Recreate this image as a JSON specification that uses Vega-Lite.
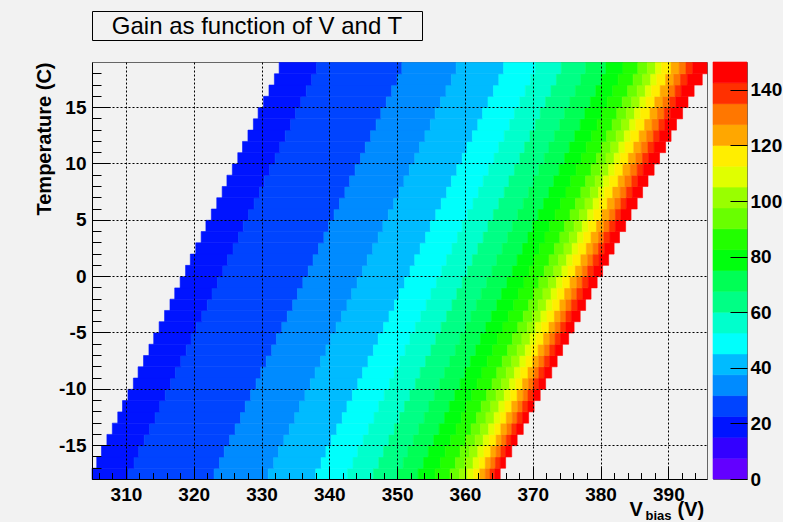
{
"$schema": "https://vega.github.io/schema/vega-lite/v6.json",
"background": "#f2f2f2",
"padding": {"left": 22, "top": 10, "right": 0, "bottom": 0},
"config": {"font": "Liberation Sans", "view": {"stroke": null},
 "axis": {"labelFont": "Liberation Sans", "titleFont": "Liberation Sans", "labelColor": "#000", "titleColor": "#000", "tickColor": "#000", "domainColor": "#000"}},
"spacing": 20,
"vconcat": [
{
 "width": 330, "height": 29,
 "view": {"stroke": "#000", "strokeWidth": 1},
 "data": {"values": [{"title": "Gain as function of V and T"}]},
 "mark": {"type": "text", "fontSize": 24, "font": "Liberation Sans", "fontWeight": "normal", "color": "#000", "align": "center", "baseline": "middle", "dy": 1},
 "encoding": {"text": {"field": "title", "type": "nominal"}}
},
{
 "spacing": 4,
 "hconcat": [
 {
  "width": 615, "height": 417,
  "view": {"stroke": "#666", "strokeWidth": 1},
  "layer": [
  {
   "data": {"values": [
{"t":-18,"v":305,"w":310.4,"g":19},{"t":-18,"v":310.4,"w":323.0,"g":26},{"t":-18,"v":323.0,"w":331.0,"g":34},{"t":-18,"v":331.0,"w":338.0,"g":41},{"t":-18,"v":338.0,"w":342.7,"g":49},{"t":-18,"v":342.7,"w":346.5,"g":56},{"t":-18,"v":346.5,"w":350.1,"g":64},{"t":-18,"v":350.1,"w":353.1,"g":71},{"t":-18,"v":353.1,"w":355.6,"g":79},{"t":-18,"v":355.6,"w":357.8,"g":86},{"t":-18,"v":357.8,"w":359.2,"g":94},{"t":-18,"v":359.2,"w":360.4,"g":101},{"t":-18,"v":360.4,"w":361.3,"g":109},{"t":-18,"v":361.3,"w":362.2,"g":116},{"t":-18,"v":362.2,"w":363.0,"g":124},{"t":-18,"v":363.0,"w":363.7,"g":131},{"t":-18,"v":363.7,"w":364.4,"g":139},{"t":-18,"v":364.4,"w":365.2,"g":146},
{"t":-17,"v":305.7,"w":311.2,"g":19},{"t":-17,"v":311.2,"w":323.8,"g":26},{"t":-17,"v":323.8,"w":331.8,"g":34},{"t":-17,"v":331.8,"w":338.8,"g":41},{"t":-17,"v":338.8,"w":343.5,"g":49},{"t":-17,"v":343.5,"w":347.3,"g":56},{"t":-17,"v":347.3,"w":350.9,"g":64},{"t":-17,"v":350.9,"w":353.9,"g":71},{"t":-17,"v":353.9,"w":356.4,"g":79},{"t":-17,"v":356.4,"w":358.6,"g":86},{"t":-17,"v":358.6,"w":360.0,"g":94},{"t":-17,"v":360.0,"w":361.2,"g":101},{"t":-17,"v":361.2,"w":362.1,"g":109},{"t":-17,"v":362.1,"w":363.0,"g":116},{"t":-17,"v":363.0,"w":363.8,"g":124},{"t":-17,"v":363.8,"w":364.5,"g":131},{"t":-17,"v":364.5,"w":365.2,"g":139},{"t":-17,"v":365.2,"w":366.0,"g":146},
{"t":-16,"v":306.4,"w":311.9,"g":19},{"t":-16,"v":311.9,"w":324.5,"g":26},{"t":-16,"v":324.5,"w":332.5,"g":34},{"t":-16,"v":332.5,"w":339.5,"g":41},{"t":-16,"v":339.5,"w":344.2,"g":49},{"t":-16,"v":344.2,"w":348.0,"g":56},{"t":-16,"v":348.0,"w":351.6,"g":64},{"t":-16,"v":351.6,"w":354.6,"g":71},{"t":-16,"v":354.6,"w":357.1,"g":79},{"t":-16,"v":357.1,"w":359.3,"g":86},{"t":-16,"v":359.3,"w":360.7,"g":94},{"t":-16,"v":360.7,"w":361.9,"g":101},{"t":-16,"v":361.9,"w":362.8,"g":109},{"t":-16,"v":362.8,"w":363.8,"g":116},{"t":-16,"v":363.8,"w":364.6,"g":124},{"t":-16,"v":364.6,"w":365.3,"g":131},{"t":-16,"v":365.3,"w":366.0,"g":139},{"t":-16,"v":366.0,"w":366.9,"g":146},
{"t":-15,"v":307.2,"w":312.7,"g":19},{"t":-15,"v":312.7,"w":325.3,"g":26},{"t":-15,"v":325.3,"w":333.3,"g":34},{"t":-15,"v":333.3,"w":340.3,"g":41},{"t":-15,"v":340.3,"w":345.0,"g":49},{"t":-15,"v":345.0,"w":348.8,"g":56},{"t":-15,"v":348.8,"w":352.4,"g":64},{"t":-15,"v":352.4,"w":355.4,"g":71},{"t":-15,"v":355.4,"w":357.9,"g":79},{"t":-15,"v":357.9,"w":360.1,"g":86},{"t":-15,"v":360.1,"w":361.5,"g":94},{"t":-15,"v":361.5,"w":362.7,"g":101},{"t":-15,"v":362.7,"w":363.6,"g":109},{"t":-15,"v":363.6,"w":364.6,"g":116},{"t":-15,"v":364.6,"w":365.4,"g":124},{"t":-15,"v":365.4,"w":366.1,"g":131},{"t":-15,"v":366.1,"w":366.8,"g":139},{"t":-15,"v":366.8,"w":367.7,"g":146},
{"t":-14,"v":308.0,"w":313.5,"g":19},{"t":-14,"v":313.5,"w":326.1,"g":26},{"t":-14,"v":326.1,"w":334.1,"g":34},{"t":-14,"v":334.1,"w":341.1,"g":41},{"t":-14,"v":341.1,"w":345.8,"g":49},{"t":-14,"v":345.8,"w":349.6,"g":56},{"t":-14,"v":349.6,"w":353.2,"g":64},{"t":-14,"v":353.2,"w":356.2,"g":71},{"t":-14,"v":356.2,"w":358.7,"g":79},{"t":-14,"v":358.7,"w":360.9,"g":86},{"t":-14,"v":360.9,"w":362.3,"g":94},{"t":-14,"v":362.3,"w":363.5,"g":101},{"t":-14,"v":363.5,"w":364.4,"g":109},{"t":-14,"v":364.4,"w":365.3,"g":116},{"t":-14,"v":365.3,"w":366.2,"g":124},{"t":-14,"v":366.2,"w":366.9,"g":131},{"t":-14,"v":366.9,"w":367.6,"g":139},{"t":-14,"v":367.6,"w":368.6,"g":146},
{"t":-13,"v":308.8,"w":314.3,"g":19},{"t":-13,"v":314.3,"w":326.9,"g":26},{"t":-13,"v":326.9,"w":334.9,"g":34},{"t":-13,"v":334.9,"w":341.9,"g":41},{"t":-13,"v":341.9,"w":346.6,"g":49},{"t":-13,"v":346.6,"w":350.4,"g":56},{"t":-13,"v":350.4,"w":354.0,"g":64},{"t":-13,"v":354.0,"w":357.0,"g":71},{"t":-13,"v":357.0,"w":359.5,"g":79},{"t":-13,"v":359.5,"w":361.7,"g":86},{"t":-13,"v":361.7,"w":363.1,"g":94},{"t":-13,"v":363.1,"w":364.3,"g":101},{"t":-13,"v":364.3,"w":365.2,"g":109},{"t":-13,"v":365.2,"w":366.1,"g":116},{"t":-13,"v":366.1,"w":367.0,"g":124},{"t":-13,"v":367.0,"w":367.7,"g":131},{"t":-13,"v":367.7,"w":368.5,"g":139},{"t":-13,"v":368.5,"w":369.4,"g":146},
{"t":-12,"v":309.5,"w":315.0,"g":19},{"t":-12,"v":315.0,"w":327.6,"g":26},{"t":-12,"v":327.6,"w":335.6,"g":34},{"t":-12,"v":335.6,"w":342.6,"g":41},{"t":-12,"v":342.6,"w":347.3,"g":49},{"t":-12,"v":347.3,"w":351.1,"g":56},{"t":-12,"v":351.1,"w":354.7,"g":64},{"t":-12,"v":354.7,"w":357.7,"g":71},{"t":-12,"v":357.7,"w":360.2,"g":79},{"t":-12,"v":360.2,"w":362.4,"g":86},{"t":-12,"v":362.4,"w":363.8,"g":94},{"t":-12,"v":363.8,"w":365.0,"g":101},{"t":-12,"v":365.0,"w":365.9,"g":109},{"t":-12,"v":365.9,"w":366.9,"g":116},{"t":-12,"v":366.9,"w":367.8,"g":124},{"t":-12,"v":367.8,"w":368.5,"g":131},{"t":-12,"v":368.5,"w":369.3,"g":139},{"t":-12,"v":369.3,"w":370.2,"g":146},
{"t":-11,"v":310.3,"w":315.8,"g":19},{"t":-11,"v":315.8,"w":328.4,"g":26},{"t":-11,"v":328.4,"w":336.4,"g":34},{"t":-11,"v":336.4,"w":343.4,"g":41},{"t":-11,"v":343.4,"w":348.1,"g":49},{"t":-11,"v":348.1,"w":351.9,"g":56},{"t":-11,"v":351.9,"w":355.5,"g":64},{"t":-11,"v":355.5,"w":358.5,"g":71},{"t":-11,"v":358.5,"w":361.0,"g":79},{"t":-11,"v":361.0,"w":363.2,"g":86},{"t":-11,"v":363.2,"w":364.6,"g":94},{"t":-11,"v":364.6,"w":365.8,"g":101},{"t":-11,"v":365.8,"w":366.7,"g":109},{"t":-11,"v":366.7,"w":367.7,"g":116},{"t":-11,"v":367.7,"w":368.6,"g":124},{"t":-11,"v":368.6,"w":369.3,"g":131},{"t":-11,"v":369.3,"w":370.1,"g":139},{"t":-11,"v":370.1,"w":371.1,"g":146},
{"t":-10,"v":311.1,"w":316.6,"g":19},{"t":-10,"v":316.6,"w":329.2,"g":26},{"t":-10,"v":329.2,"w":337.2,"g":34},{"t":-10,"v":337.2,"w":344.2,"g":41},{"t":-10,"v":344.2,"w":348.9,"g":49},{"t":-10,"v":348.9,"w":352.7,"g":56},{"t":-10,"v":352.7,"w":356.3,"g":64},{"t":-10,"v":356.3,"w":359.3,"g":71},{"t":-10,"v":359.3,"w":361.8,"g":79},{"t":-10,"v":361.8,"w":364.0,"g":86},{"t":-10,"v":364.0,"w":365.4,"g":94},{"t":-10,"v":365.4,"w":366.6,"g":101},{"t":-10,"v":366.6,"w":367.5,"g":109},{"t":-10,"v":367.5,"w":368.5,"g":116},{"t":-10,"v":368.5,"w":369.4,"g":124},{"t":-10,"v":369.4,"w":370.1,"g":131},{"t":-10,"v":370.1,"w":370.9,"g":139},{"t":-10,"v":370.9,"w":371.9,"g":146},
{"t":-9,"v":311.8,"w":317.3,"g":19},{"t":-9,"v":317.3,"w":329.9,"g":26},{"t":-9,"v":329.9,"w":337.9,"g":34},{"t":-9,"v":337.9,"w":344.9,"g":41},{"t":-9,"v":344.9,"w":349.6,"g":49},{"t":-9,"v":349.6,"w":353.4,"g":56},{"t":-9,"v":353.4,"w":357.0,"g":64},{"t":-9,"v":357.0,"w":360.0,"g":71},{"t":-9,"v":360.0,"w":362.5,"g":79},{"t":-9,"v":362.5,"w":364.7,"g":86},{"t":-9,"v":364.7,"w":366.1,"g":94},{"t":-9,"v":366.1,"w":367.3,"g":101},{"t":-9,"v":367.3,"w":368.2,"g":109},{"t":-9,"v":368.2,"w":369.3,"g":116},{"t":-9,"v":369.3,"w":370.2,"g":124},{"t":-9,"v":370.2,"w":370.9,"g":131},{"t":-9,"v":370.9,"w":371.7,"g":139},{"t":-9,"v":371.7,"w":372.8,"g":146},
{"t":-8,"v":312.6,"w":318.1,"g":19},{"t":-8,"v":318.1,"w":330.7,"g":26},{"t":-8,"v":330.7,"w":338.7,"g":34},{"t":-8,"v":338.7,"w":345.7,"g":41},{"t":-8,"v":345.7,"w":350.4,"g":49},{"t":-8,"v":350.4,"w":354.2,"g":56},{"t":-8,"v":354.2,"w":357.8,"g":64},{"t":-8,"v":357.8,"w":360.8,"g":71},{"t":-8,"v":360.8,"w":363.3,"g":79},{"t":-8,"v":363.3,"w":365.5,"g":86},{"t":-8,"v":365.5,"w":366.9,"g":94},{"t":-8,"v":366.9,"w":368.1,"g":101},{"t":-8,"v":368.1,"w":369.0,"g":109},{"t":-8,"v":369.0,"w":370.0,"g":116},{"t":-8,"v":370.0,"w":370.9,"g":124},{"t":-8,"v":370.9,"w":371.7,"g":131},{"t":-8,"v":371.7,"w":372.5,"g":139},{"t":-8,"v":372.5,"w":373.6,"g":146},
{"t":-7,"v":313.4,"w":318.9,"g":19},{"t":-7,"v":318.9,"w":331.5,"g":26},{"t":-7,"v":331.5,"w":339.5,"g":34},{"t":-7,"v":339.5,"w":346.5,"g":41},{"t":-7,"v":346.5,"w":351.2,"g":49},{"t":-7,"v":351.2,"w":355.0,"g":56},{"t":-7,"v":355.0,"w":358.6,"g":64},{"t":-7,"v":358.6,"w":361.6,"g":71},{"t":-7,"v":361.6,"w":364.1,"g":79},{"t":-7,"v":364.1,"w":366.3,"g":86},{"t":-7,"v":366.3,"w":367.7,"g":94},{"t":-7,"v":367.7,"w":368.9,"g":101},{"t":-7,"v":368.9,"w":369.8,"g":109},{"t":-7,"v":369.8,"w":370.8,"g":116},{"t":-7,"v":370.8,"w":371.7,"g":124},{"t":-7,"v":371.7,"w":372.5,"g":131},{"t":-7,"v":372.5,"w":373.3,"g":139},{"t":-7,"v":373.3,"w":374.4,"g":146},
{"t":-6,"v":314.1,"w":319.6,"g":19},{"t":-6,"v":319.6,"w":332.2,"g":26},{"t":-6,"v":332.2,"w":340.2,"g":34},{"t":-6,"v":340.2,"w":347.2,"g":41},{"t":-6,"v":347.2,"w":351.9,"g":49},{"t":-6,"v":351.9,"w":355.7,"g":56},{"t":-6,"v":355.7,"w":359.3,"g":64},{"t":-6,"v":359.3,"w":362.3,"g":71},{"t":-6,"v":362.3,"w":364.8,"g":79},{"t":-6,"v":364.8,"w":367.0,"g":86},{"t":-6,"v":367.0,"w":368.4,"g":94},{"t":-6,"v":368.4,"w":369.6,"g":101},{"t":-6,"v":369.6,"w":370.5,"g":109},{"t":-6,"v":370.5,"w":371.6,"g":116},{"t":-6,"v":371.6,"w":372.5,"g":124},{"t":-6,"v":372.5,"w":373.3,"g":131},{"t":-6,"v":373.3,"w":374.1,"g":139},{"t":-6,"v":374.1,"w":375.3,"g":146},
{"t":-5,"v":314.9,"w":320.4,"g":19},{"t":-5,"v":320.4,"w":333.0,"g":26},{"t":-5,"v":333.0,"w":341.0,"g":34},{"t":-5,"v":341.0,"w":348.0,"g":41},{"t":-5,"v":348.0,"w":352.7,"g":49},{"t":-5,"v":352.7,"w":356.5,"g":56},{"t":-5,"v":356.5,"w":360.1,"g":64},{"t":-5,"v":360.1,"w":363.1,"g":71},{"t":-5,"v":363.1,"w":365.6,"g":79},{"t":-5,"v":365.6,"w":367.8,"g":86},{"t":-5,"v":367.8,"w":369.2,"g":94},{"t":-5,"v":369.2,"w":370.4,"g":101},{"t":-5,"v":370.4,"w":371.3,"g":109},{"t":-5,"v":371.3,"w":372.4,"g":116},{"t":-5,"v":372.4,"w":373.3,"g":124},{"t":-5,"v":373.3,"w":374.1,"g":131},{"t":-5,"v":374.1,"w":374.9,"g":139},{"t":-5,"v":374.9,"w":376.1,"g":146},
{"t":-4,"v":315.7,"w":321.2,"g":19},{"t":-4,"v":321.2,"w":333.8,"g":26},{"t":-4,"v":333.8,"w":341.8,"g":34},{"t":-4,"v":341.8,"w":348.8,"g":41},{"t":-4,"v":348.8,"w":353.5,"g":49},{"t":-4,"v":353.5,"w":357.3,"g":56},{"t":-4,"v":357.3,"w":360.9,"g":64},{"t":-4,"v":360.9,"w":363.9,"g":71},{"t":-4,"v":363.9,"w":366.4,"g":79},{"t":-4,"v":366.4,"w":368.6,"g":86},{"t":-4,"v":368.6,"w":370.0,"g":94},{"t":-4,"v":370.0,"w":371.2,"g":101},{"t":-4,"v":371.2,"w":372.1,"g":109},{"t":-4,"v":372.1,"w":373.2,"g":116},{"t":-4,"v":373.2,"w":374.1,"g":124},{"t":-4,"v":374.1,"w":374.9,"g":131},{"t":-4,"v":374.9,"w":375.7,"g":139},{"t":-4,"v":375.7,"w":377.0,"g":146},
{"t":-3,"v":316.5,"w":322.0,"g":19},{"t":-3,"v":322.0,"w":334.6,"g":26},{"t":-3,"v":334.6,"w":342.6,"g":34},{"t":-3,"v":342.6,"w":349.6,"g":41},{"t":-3,"v":349.6,"w":354.3,"g":49},{"t":-3,"v":354.3,"w":358.1,"g":56},{"t":-3,"v":358.1,"w":361.7,"g":64},{"t":-3,"v":361.7,"w":364.7,"g":71},{"t":-3,"v":364.7,"w":367.2,"g":79},{"t":-3,"v":367.2,"w":369.4,"g":86},{"t":-3,"v":369.4,"w":370.8,"g":94},{"t":-3,"v":370.8,"w":372.0,"g":101},{"t":-3,"v":372.0,"w":372.9,"g":109},{"t":-3,"v":372.9,"w":374.0,"g":116},{"t":-3,"v":374.0,"w":374.9,"g":124},{"t":-3,"v":374.9,"w":375.7,"g":131},{"t":-3,"v":375.7,"w":376.6,"g":139},{"t":-3,"v":376.6,"w":377.8,"g":146},
{"t":-2,"v":317.2,"w":322.7,"g":19},{"t":-2,"v":322.7,"w":335.3,"g":26},{"t":-2,"v":335.3,"w":343.3,"g":34},{"t":-2,"v":343.3,"w":350.3,"g":41},{"t":-2,"v":350.3,"w":355.0,"g":49},{"t":-2,"v":355.0,"w":358.8,"g":56},{"t":-2,"v":358.8,"w":362.4,"g":64},{"t":-2,"v":362.4,"w":365.4,"g":71},{"t":-2,"v":365.4,"w":367.9,"g":79},{"t":-2,"v":367.9,"w":370.1,"g":86},{"t":-2,"v":370.1,"w":371.5,"g":94},{"t":-2,"v":371.5,"w":372.7,"g":101},{"t":-2,"v":372.7,"w":373.6,"g":109},{"t":-2,"v":373.6,"w":374.7,"g":116},{"t":-2,"v":374.7,"w":375.7,"g":124},{"t":-2,"v":375.7,"w":376.5,"g":131},{"t":-2,"v":376.5,"w":377.4,"g":139},{"t":-2,"v":377.4,"w":378.6,"g":146},
{"t":-1,"v":318.0,"w":323.5,"g":19},{"t":-1,"v":323.5,"w":336.1,"g":26},{"t":-1,"v":336.1,"w":344.1,"g":34},{"t":-1,"v":344.1,"w":351.1,"g":41},{"t":-1,"v":351.1,"w":355.8,"g":49},{"t":-1,"v":355.8,"w":359.6,"g":56},{"t":-1,"v":359.6,"w":363.2,"g":64},{"t":-1,"v":363.2,"w":366.2,"g":71},{"t":-1,"v":366.2,"w":368.7,"g":79},{"t":-1,"v":368.7,"w":370.9,"g":86},{"t":-1,"v":370.9,"w":372.3,"g":94},{"t":-1,"v":372.3,"w":373.5,"g":101},{"t":-1,"v":373.5,"w":374.4,"g":109},{"t":-1,"v":374.4,"w":375.5,"g":116},{"t":-1,"v":375.5,"w":376.5,"g":124},{"t":-1,"v":376.5,"w":377.3,"g":131},{"t":-1,"v":377.3,"w":378.2,"g":139},{"t":-1,"v":378.2,"w":379.5,"g":146},
{"t":0,"v":318.8,"w":324.3,"g":19},{"t":0,"v":324.3,"w":336.9,"g":26},{"t":0,"v":336.9,"w":344.9,"g":34},{"t":0,"v":344.9,"w":351.9,"g":41},{"t":0,"v":351.9,"w":356.6,"g":49},{"t":0,"v":356.6,"w":360.4,"g":56},{"t":0,"v":360.4,"w":364.0,"g":64},{"t":0,"v":364.0,"w":367.0,"g":71},{"t":0,"v":367.0,"w":369.5,"g":79},{"t":0,"v":369.5,"w":371.7,"g":86},{"t":0,"v":371.7,"w":373.1,"g":94},{"t":0,"v":373.1,"w":374.3,"g":101},{"t":0,"v":374.3,"w":375.2,"g":109},{"t":0,"v":375.2,"w":376.3,"g":116},{"t":0,"v":376.3,"w":377.3,"g":124},{"t":0,"v":377.3,"w":378.1,"g":131},{"t":0,"v":378.1,"w":379.0,"g":139},{"t":0,"v":379.0,"w":380.3,"g":146},
{"t":1,"v":319.5,"w":325.0,"g":19},{"t":1,"v":325.0,"w":337.6,"g":26},{"t":1,"v":337.6,"w":345.6,"g":34},{"t":1,"v":345.6,"w":352.6,"g":41},{"t":1,"v":352.6,"w":357.3,"g":49},{"t":1,"v":357.3,"w":361.1,"g":56},{"t":1,"v":361.1,"w":364.7,"g":64},{"t":1,"v":364.7,"w":367.7,"g":71},{"t":1,"v":367.7,"w":370.2,"g":79},{"t":1,"v":370.2,"w":372.4,"g":86},{"t":1,"v":372.4,"w":373.8,"g":94},{"t":1,"v":373.8,"w":375.0,"g":101},{"t":1,"v":375.0,"w":375.9,"g":109},{"t":1,"v":375.9,"w":377.1,"g":116},{"t":1,"v":377.1,"w":378.1,"g":124},{"t":1,"v":378.1,"w":378.9,"g":131},{"t":1,"v":378.9,"w":379.8,"g":139},{"t":1,"v":379.8,"w":381.2,"g":146},
{"t":2,"v":320.3,"w":325.8,"g":19},{"t":2,"v":325.8,"w":338.4,"g":26},{"t":2,"v":338.4,"w":346.4,"g":34},{"t":2,"v":346.4,"w":353.4,"g":41},{"t":2,"v":353.4,"w":358.1,"g":49},{"t":2,"v":358.1,"w":361.9,"g":56},{"t":2,"v":361.9,"w":365.5,"g":64},{"t":2,"v":365.5,"w":368.5,"g":71},{"t":2,"v":368.5,"w":371.0,"g":79},{"t":2,"v":371.0,"w":373.2,"g":86},{"t":2,"v":373.2,"w":374.6,"g":94},{"t":2,"v":374.6,"w":375.8,"g":101},{"t":2,"v":375.8,"w":376.7,"g":109},{"t":2,"v":376.7,"w":377.9,"g":116},{"t":2,"v":377.9,"w":378.9,"g":124},{"t":2,"v":378.9,"w":379.7,"g":131},{"t":2,"v":379.7,"w":380.6,"g":139},{"t":2,"v":380.6,"w":382.0,"g":146},
{"t":3,"v":321.1,"w":326.6,"g":19},{"t":3,"v":326.6,"w":339.2,"g":26},{"t":3,"v":339.2,"w":347.2,"g":34},{"t":3,"v":347.2,"w":354.2,"g":41},{"t":3,"v":354.2,"w":358.9,"g":49},{"t":3,"v":358.9,"w":362.7,"g":56},{"t":3,"v":362.7,"w":366.3,"g":64},{"t":3,"v":366.3,"w":369.3,"g":71},{"t":3,"v":369.3,"w":371.8,"g":79},{"t":3,"v":371.8,"w":374.0,"g":86},{"t":3,"v":374.0,"w":375.4,"g":94},{"t":3,"v":375.4,"w":376.6,"g":101},{"t":3,"v":376.6,"w":377.5,"g":109},{"t":3,"v":377.5,"w":378.6,"g":116},{"t":3,"v":378.6,"w":379.7,"g":124},{"t":3,"v":379.7,"w":380.5,"g":131},{"t":3,"v":380.5,"w":381.4,"g":139},{"t":3,"v":381.4,"w":382.8,"g":146},
{"t":4,"v":321.8,"w":327.3,"g":19},{"t":4,"v":327.3,"w":339.9,"g":26},{"t":4,"v":339.9,"w":347.9,"g":34},{"t":4,"v":347.9,"w":354.9,"g":41},{"t":4,"v":354.9,"w":359.6,"g":49},{"t":4,"v":359.6,"w":363.4,"g":56},{"t":4,"v":363.4,"w":367.0,"g":64},{"t":4,"v":367.0,"w":370.0,"g":71},{"t":4,"v":370.0,"w":372.5,"g":79},{"t":4,"v":372.5,"w":374.7,"g":86},{"t":4,"v":374.7,"w":376.1,"g":94},{"t":4,"v":376.1,"w":377.3,"g":101},{"t":4,"v":377.3,"w":378.2,"g":109},{"t":4,"v":378.2,"w":379.4,"g":116},{"t":4,"v":379.4,"w":380.5,"g":124},{"t":4,"v":380.5,"w":381.3,"g":131},{"t":4,"v":381.3,"w":382.2,"g":139},{"t":4,"v":382.2,"w":383.7,"g":146},
{"t":5,"v":322.6,"w":328.1,"g":19},{"t":5,"v":328.1,"w":340.7,"g":26},{"t":5,"v":340.7,"w":348.7,"g":34},{"t":5,"v":348.7,"w":355.7,"g":41},{"t":5,"v":355.7,"w":360.4,"g":49},{"t":5,"v":360.4,"w":364.2,"g":56},{"t":5,"v":364.2,"w":367.8,"g":64},{"t":5,"v":367.8,"w":370.8,"g":71},{"t":5,"v":370.8,"w":373.3,"g":79},{"t":5,"v":373.3,"w":375.5,"g":86},{"t":5,"v":375.5,"w":376.9,"g":94},{"t":5,"v":376.9,"w":378.1,"g":101},{"t":5,"v":378.1,"w":379.0,"g":109},{"t":5,"v":379.0,"w":380.2,"g":116},{"t":5,"v":380.2,"w":381.3,"g":124},{"t":5,"v":381.3,"w":382.2,"g":131},{"t":5,"v":382.2,"w":383.0,"g":139},{"t":5,"v":383.0,"w":384.5,"g":146},
{"t":6,"v":323.4,"w":328.9,"g":19},{"t":6,"v":328.9,"w":341.5,"g":26},{"t":6,"v":341.5,"w":349.5,"g":34},{"t":6,"v":349.5,"w":356.5,"g":41},{"t":6,"v":356.5,"w":361.2,"g":49},{"t":6,"v":361.2,"w":365.0,"g":56},{"t":6,"v":365.0,"w":368.6,"g":64},{"t":6,"v":368.6,"w":371.6,"g":71},{"t":6,"v":371.6,"w":374.1,"g":79},{"t":6,"v":374.1,"w":376.3,"g":86},{"t":6,"v":376.3,"w":377.7,"g":94},{"t":6,"v":377.7,"w":378.9,"g":101},{"t":6,"v":378.9,"w":379.8,"g":109},{"t":6,"v":379.8,"w":381.0,"g":116},{"t":6,"v":381.0,"w":382.1,"g":124},{"t":6,"v":382.1,"w":383.0,"g":131},{"t":6,"v":383.0,"w":383.8,"g":139},{"t":6,"v":383.8,"w":385.4,"g":146},
{"t":7,"v":324.2,"w":329.7,"g":19},{"t":7,"v":329.7,"w":342.3,"g":26},{"t":7,"v":342.3,"w":350.3,"g":34},{"t":7,"v":350.3,"w":357.3,"g":41},{"t":7,"v":357.3,"w":362.0,"g":49},{"t":7,"v":362.0,"w":365.8,"g":56},{"t":7,"v":365.8,"w":369.4,"g":64},{"t":7,"v":369.4,"w":372.4,"g":71},{"t":7,"v":372.4,"w":374.9,"g":79},{"t":7,"v":374.9,"w":377.1,"g":86},{"t":7,"v":377.1,"w":378.5,"g":94},{"t":7,"v":378.5,"w":379.7,"g":101},{"t":7,"v":379.7,"w":380.6,"g":109},{"t":7,"v":380.6,"w":381.8,"g":116},{"t":7,"v":381.8,"w":382.9,"g":124},{"t":7,"v":382.9,"w":383.8,"g":131},{"t":7,"v":383.8,"w":384.7,"g":139},{"t":7,"v":384.7,"w":386.2,"g":146},
{"t":8,"v":324.9,"w":330.4,"g":19},{"t":8,"v":330.4,"w":343.0,"g":26},{"t":8,"v":343.0,"w":351.0,"g":34},{"t":8,"v":351.0,"w":358.0,"g":41},{"t":8,"v":358.0,"w":362.7,"g":49},{"t":8,"v":362.7,"w":366.5,"g":56},{"t":8,"v":366.5,"w":370.1,"g":64},{"t":8,"v":370.1,"w":373.1,"g":71},{"t":8,"v":373.1,"w":375.6,"g":79},{"t":8,"v":375.6,"w":377.8,"g":86},{"t":8,"v":377.8,"w":379.2,"g":94},{"t":8,"v":379.2,"w":380.4,"g":101},{"t":8,"v":380.4,"w":381.3,"g":109},{"t":8,"v":381.3,"w":382.6,"g":116},{"t":8,"v":382.6,"w":383.6,"g":124},{"t":8,"v":383.6,"w":384.6,"g":131},{"t":8,"v":384.6,"w":385.5,"g":139},{"t":8,"v":385.5,"w":387.0,"g":146},
{"t":9,"v":325.7,"w":331.2,"g":19},{"t":9,"v":331.2,"w":343.8,"g":26},{"t":9,"v":343.8,"w":351.8,"g":34},{"t":9,"v":351.8,"w":358.8,"g":41},{"t":9,"v":358.8,"w":363.5,"g":49},{"t":9,"v":363.5,"w":367.3,"g":56},{"t":9,"v":367.3,"w":370.9,"g":64},{"t":9,"v":370.9,"w":373.9,"g":71},{"t":9,"v":373.9,"w":376.4,"g":79},{"t":9,"v":376.4,"w":378.6,"g":86},{"t":9,"v":378.6,"w":380.0,"g":94},{"t":9,"v":380.0,"w":381.2,"g":101},{"t":9,"v":381.2,"w":382.1,"g":109},{"t":9,"v":382.1,"w":383.3,"g":116},{"t":9,"v":383.3,"w":384.4,"g":124},{"t":9,"v":384.4,"w":385.4,"g":131},{"t":9,"v":385.4,"w":386.3,"g":139},{"t":9,"v":386.3,"w":387.9,"g":146},
{"t":10,"v":326.5,"w":332.0,"g":19},{"t":10,"v":332.0,"w":344.6,"g":26},{"t":10,"v":344.6,"w":352.6,"g":34},{"t":10,"v":352.6,"w":359.6,"g":41},{"t":10,"v":359.6,"w":364.3,"g":49},{"t":10,"v":364.3,"w":368.1,"g":56},{"t":10,"v":368.1,"w":371.7,"g":64},{"t":10,"v":371.7,"w":374.7,"g":71},{"t":10,"v":374.7,"w":377.2,"g":79},{"t":10,"v":377.2,"w":379.4,"g":86},{"t":10,"v":379.4,"w":380.8,"g":94},{"t":10,"v":380.8,"w":382.0,"g":101},{"t":10,"v":382.0,"w":382.9,"g":109},{"t":10,"v":382.9,"w":384.1,"g":116},{"t":10,"v":384.1,"w":385.2,"g":124},{"t":10,"v":385.2,"w":386.2,"g":131},{"t":10,"v":386.2,"w":387.1,"g":139},{"t":10,"v":387.1,"w":388.7,"g":146},
{"t":11,"v":327.2,"w":332.7,"g":19},{"t":11,"v":332.7,"w":345.3,"g":26},{"t":11,"v":345.3,"w":353.3,"g":34},{"t":11,"v":353.3,"w":360.3,"g":41},{"t":11,"v":360.3,"w":365.0,"g":49},{"t":11,"v":365.0,"w":368.8,"g":56},{"t":11,"v":368.8,"w":372.4,"g":64},{"t":11,"v":372.4,"w":375.4,"g":71},{"t":11,"v":375.4,"w":377.9,"g":79},{"t":11,"v":377.9,"w":380.1,"g":86},{"t":11,"v":380.1,"w":381.5,"g":94},{"t":11,"v":381.5,"w":382.7,"g":101},{"t":11,"v":382.7,"w":383.6,"g":109},{"t":11,"v":383.6,"w":384.9,"g":116},{"t":11,"v":384.9,"w":386.0,"g":124},{"t":11,"v":386.0,"w":387.0,"g":131},{"t":11,"v":387.0,"w":387.9,"g":139},{"t":11,"v":387.9,"w":389.6,"g":146},
{"t":12,"v":328.0,"w":333.5,"g":19},{"t":12,"v":333.5,"w":346.1,"g":26},{"t":12,"v":346.1,"w":354.1,"g":34},{"t":12,"v":354.1,"w":361.1,"g":41},{"t":12,"v":361.1,"w":365.8,"g":49},{"t":12,"v":365.8,"w":369.6,"g":56},{"t":12,"v":369.6,"w":373.2,"g":64},{"t":12,"v":373.2,"w":376.2,"g":71},{"t":12,"v":376.2,"w":378.7,"g":79},{"t":12,"v":378.7,"w":380.9,"g":86},{"t":12,"v":380.9,"w":382.3,"g":94},{"t":12,"v":382.3,"w":383.5,"g":101},{"t":12,"v":383.5,"w":384.4,"g":109},{"t":12,"v":384.4,"w":385.7,"g":116},{"t":12,"v":385.7,"w":386.8,"g":124},{"t":12,"v":386.8,"w":387.8,"g":131},{"t":12,"v":387.8,"w":388.7,"g":139},{"t":12,"v":388.7,"w":390.4,"g":146},
{"t":13,"v":328.8,"w":334.3,"g":19},{"t":13,"v":334.3,"w":346.9,"g":26},{"t":13,"v":346.9,"w":354.9,"g":34},{"t":13,"v":354.9,"w":361.9,"g":41},{"t":13,"v":361.9,"w":366.6,"g":49},{"t":13,"v":366.6,"w":370.4,"g":56},{"t":13,"v":370.4,"w":374.0,"g":64},{"t":13,"v":374.0,"w":377.0,"g":71},{"t":13,"v":377.0,"w":379.5,"g":79},{"t":13,"v":379.5,"w":381.7,"g":86},{"t":13,"v":381.7,"w":383.1,"g":94},{"t":13,"v":383.1,"w":384.3,"g":101},{"t":13,"v":384.3,"w":385.2,"g":109},{"t":13,"v":385.2,"w":386.5,"g":116},{"t":13,"v":386.5,"w":387.6,"g":124},{"t":13,"v":387.6,"w":388.6,"g":131},{"t":13,"v":388.6,"w":389.5,"g":139},{"t":13,"v":389.5,"w":391.2,"g":146},
{"t":14,"v":329.5,"w":335.0,"g":19},{"t":14,"v":335.0,"w":347.6,"g":26},{"t":14,"v":347.6,"w":355.6,"g":34},{"t":14,"v":355.6,"w":362.6,"g":41},{"t":14,"v":362.6,"w":367.3,"g":49},{"t":14,"v":367.3,"w":371.1,"g":56},{"t":14,"v":371.1,"w":374.7,"g":64},{"t":14,"v":374.7,"w":377.7,"g":71},{"t":14,"v":377.7,"w":380.2,"g":79},{"t":14,"v":380.2,"w":382.4,"g":86},{"t":14,"v":382.4,"w":383.8,"g":94},{"t":14,"v":383.8,"w":385.0,"g":101},{"t":14,"v":385.0,"w":385.9,"g":109},{"t":14,"v":385.9,"w":387.3,"g":116},{"t":14,"v":387.3,"w":388.4,"g":124},{"t":14,"v":388.4,"w":389.4,"g":131},{"t":14,"v":389.4,"w":390.3,"g":139},{"t":14,"v":390.3,"w":392.1,"g":146},
{"t":15,"v":330.3,"w":335.8,"g":19},{"t":15,"v":335.8,"w":348.4,"g":26},{"t":15,"v":348.4,"w":356.4,"g":34},{"t":15,"v":356.4,"w":363.4,"g":41},{"t":15,"v":363.4,"w":368.1,"g":49},{"t":15,"v":368.1,"w":371.9,"g":56},{"t":15,"v":371.9,"w":375.5,"g":64},{"t":15,"v":375.5,"w":378.5,"g":71},{"t":15,"v":378.5,"w":381.0,"g":79},{"t":15,"v":381.0,"w":383.2,"g":86},{"t":15,"v":383.2,"w":384.6,"g":94},{"t":15,"v":384.6,"w":385.8,"g":101},{"t":15,"v":385.8,"w":386.7,"g":109},{"t":15,"v":386.7,"w":388.0,"g":116},{"t":15,"v":388.0,"w":389.2,"g":124},{"t":15,"v":389.2,"w":390.2,"g":131},{"t":15,"v":390.2,"w":391.1,"g":139},{"t":15,"v":391.1,"w":392.9,"g":146},
{"t":16,"v":331.1,"w":336.6,"g":19},{"t":16,"v":336.6,"w":349.2,"g":26},{"t":16,"v":349.2,"w":357.2,"g":34},{"t":16,"v":357.2,"w":364.2,"g":41},{"t":16,"v":364.2,"w":368.9,"g":49},{"t":16,"v":368.9,"w":372.7,"g":56},{"t":16,"v":372.7,"w":376.3,"g":64},{"t":16,"v":376.3,"w":379.3,"g":71},{"t":16,"v":379.3,"w":381.8,"g":79},{"t":16,"v":381.8,"w":384.0,"g":86},{"t":16,"v":384.0,"w":385.4,"g":94},{"t":16,"v":385.4,"w":386.6,"g":101},{"t":16,"v":386.6,"w":387.5,"g":109},{"t":16,"v":387.5,"w":388.8,"g":116},{"t":16,"v":388.8,"w":390.0,"g":124},{"t":16,"v":390.0,"w":391.0,"g":131},{"t":16,"v":391.0,"w":391.9,"g":139},{"t":16,"v":391.9,"w":393.8,"g":146},
{"t":17,"v":331.9,"w":337.4,"g":19},{"t":17,"v":337.4,"w":350.0,"g":26},{"t":17,"v":350.0,"w":358.0,"g":34},{"t":17,"v":358.0,"w":365.0,"g":41},{"t":17,"v":365.0,"w":369.7,"g":49},{"t":17,"v":369.7,"w":373.5,"g":56},{"t":17,"v":373.5,"w":377.1,"g":64},{"t":17,"v":377.1,"w":380.1,"g":71},{"t":17,"v":380.1,"w":382.6,"g":79},{"t":17,"v":382.6,"w":384.8,"g":86},{"t":17,"v":384.8,"w":386.2,"g":94},{"t":17,"v":386.2,"w":387.4,"g":101},{"t":17,"v":387.4,"w":388.3,"g":109},{"t":17,"v":388.3,"w":389.6,"g":116},{"t":17,"v":389.6,"w":390.8,"g":124},{"t":17,"v":390.8,"w":391.8,"g":131},{"t":17,"v":391.8,"w":392.8,"g":139},{"t":17,"v":392.8,"w":395.0,"g":146},
{"t":18,"v":332.6,"w":338.1,"g":19},{"t":18,"v":338.1,"w":350.7,"g":26},{"t":18,"v":350.7,"w":358.7,"g":34},{"t":18,"v":358.7,"w":365.7,"g":41},{"t":18,"v":365.7,"w":370.4,"g":49},{"t":18,"v":370.4,"w":374.2,"g":56},{"t":18,"v":374.2,"w":377.8,"g":64},{"t":18,"v":377.8,"w":380.8,"g":71},{"t":18,"v":380.8,"w":383.3,"g":79},{"t":18,"v":383.3,"w":385.5,"g":86},{"t":18,"v":385.5,"w":386.9,"g":94},{"t":18,"v":386.9,"w":388.1,"g":101},{"t":18,"v":388.1,"w":389.0,"g":109},{"t":18,"v":389.0,"w":390.4,"g":116},{"t":18,"v":390.4,"w":391.6,"g":124},{"t":18,"v":391.6,"w":392.6,"g":131},{"t":18,"v":392.6,"w":393.6,"g":139},{"t":18,"v":393.6,"w":395.7,"g":146}
   ]},
   "mark": {"type": "rect", "binSpacing": 0, "strokeWidth": 0.6},
   "encoding": {
    "x": {"field": "v", "type": "quantitative", "scale": {"domain": [305, 395.7], "nice": false, "zero": false},
     "axis": {"orient": "bottom", "values": [310,320,330,340,350,360,370,380,390], "format": "d", "labelFontSize": 19, "labelFontWeight": "bold", "labelPadding": 19, "labelFlush": false, "labelOverlap": false, "tickSize": -13, "tickWidth": 1, "domainWidth": 1, "grid": true, "gridColor": "#000", "gridDash": [2,2], "gridWidth": 1, "gridOpacity": 1, "zindex": 1,
      "title": "V", "titleFontSize": 20, "titleFontWeight": "bold", "titleX": 537, "titleY": 36, "titleAlign": "left", "titleBaseline": "alphabetic"}},
    "x2": {"field": "w"},
    "y": {"field": "t", "type": "quantitative", "bin": {"binned": true, "step": 1}, "scale": {"domain": [-18, 19], "nice": false, "zero": false},
     "axis": {"orient": "left", "values": [-15,-10,-5,0,5,10,15], "labelExpr": "'' + datum.value", "labelFontSize": 19, "labelFontWeight": "bold", "labelPadding": 24, "labelFlush": false, "labelOverlap": false, "tickSize": -18, "tickWidth": 1, "domainWidth": 1, "grid": true, "gridColor": "#000", "gridDash": [2,2], "gridWidth": 1, "gridOpacity": 1, "zindex": 1,
      "title": "Temperature (C)", "titleFontSize": 20, "titleFontWeight": "bold", "titleAnchor": "end", "titlePadding": 4}},
    "color": {"field": "g", "type": "quantitative", "legend": null,
     "scale": {"type": "quantize", "domain": [0, 150], "range": ["#6300ff","#3300ff","#0014ff","#0044ff","#008bff","#00bbff","#00fffc","#00ffcc","#00ff85","#00ff55","#00ff0e","#22ff00","#69ff00","#99ff00","#e0ff00","#ffee00","#ffa700","#ff7700","#ff3000","#ff0000"]}},
    "stroke": {"field": "g", "type": "quantitative", "legend": null,
     "scale": {"type": "quantize", "domain": [0, 150], "range": ["#6300ff","#3300ff","#0014ff","#0044ff","#008bff","#00bbff","#00fffc","#00ffcc","#00ff85","#00ff55","#00ff0e","#22ff00","#69ff00","#99ff00","#e0ff00","#ffee00","#ffa700","#ff7700","#ff3000","#ff0000"]}}
   }
  },
  {
   "data": {"values": [{}]},
   "mark": {"type": "point", "opacity": 0},
   "encoding": {
    "x": {"datum": 350, "type": "quantitative", "scale": {"domain": [305, 395.7], "nice": false, "zero": false},
     "axis": {"orient": "bottom", "values": [306,308,310,312,314,316,318,320,322,324,326,328,330,332,334,336,338,340,342,344,346,348,350,352,354,356,358,360,362,364,366,368,370,372,374,376,378,380,382,384,386,388,390,392,394], "labels": false, "domain": false, "grid": false, "tickSize": -6.5, "tickWidth": 1, "zindex": 1,
      "title": "bias", "titleFontSize": 13, "titleFontWeight": "bold", "titleX": 553, "titleY": 40, "titleAlign": "left", "titleBaseline": "alphabetic"}},
    "y": {"datum": 0, "type": "quantitative", "scale": {"domain": [-18, 19], "nice": false, "zero": false},
     "axis": {"orient": "left", "values": [-18,-17,-16,-15,-14,-13,-12,-11,-10,-9,-8,-7,-6,-5,-4,-3,-2,-1,0,1,2,3,4,5,6,7,8,9,10,11,12,13,14,15,16,17,18], "labels": false, "domain": false, "grid": false, "tickSize": -9, "tickWidth": 1, "zindex": 1,
      "title": "\u00a0", "titleFontSize": 10, "titleOpacity": 0, "titlePadding": 0, "minExtent": 59}}
   }
  },
  {
   "data": {"values": [{}]},
   "mark": {"type": "point", "opacity": 0},
   "encoding": {
    "x": {"datum": 350, "type": "quantitative", "scale": {"domain": [305, 395.7], "nice": false, "zero": false},
     "axis": {"orient": "bottom", "labels": false, "ticks": false, "domain": false, "grid": false,
      "title": "(V)", "titleFontSize": 20, "titleFontWeight": "bold", "titleX": 585, "titleY": 36, "titleAlign": "left", "titleBaseline": "alphabetic"}}
   }
  }
  ],
  "resolve": {"axis": {"x": "independent", "y": "independent"}}
 },
 {
  "width": 34, "height": 417,
  "view": {"stroke": "#666", "strokeWidth": 1},
  "data": {"values": [
{"lo":0,"hi":7.5,"g":4},{"lo":7.5,"hi":15,"g":11},{"lo":15,"hi":22.5,"g":19},{"lo":22.5,"hi":30,"g":26},{"lo":30,"hi":37.5,"g":34},{"lo":37.5,"hi":45,"g":41},{"lo":45,"hi":52.5,"g":49},{"lo":52.5,"hi":60,"g":56},{"lo":60,"hi":67.5,"g":64},{"lo":67.5,"hi":75,"g":71},{"lo":75,"hi":82.5,"g":79},{"lo":82.5,"hi":90,"g":86},{"lo":90,"hi":97.5,"g":94},{"lo":97.5,"hi":105,"g":101},{"lo":105,"hi":112.5,"g":109},{"lo":112.5,"hi":120,"g":116},{"lo":120,"hi":127.5,"g":124},{"lo":127.5,"hi":135,"g":131},{"lo":135,"hi":142.5,"g":139},{"lo":142.5,"hi":150,"g":146}
  ]},
  "mark": {"type": "rect", "strokeWidth": 0.6},
  "encoding": {
   "y": {"field": "lo", "type": "quantitative", "scale": {"domain": [0, 150], "nice": false, "zero": false},
    "axis": {"orient": "right", "values": [0,20,40,60,80,100,120,140], "title": null, "domain": false, "grid": false, "tickSize": -17, "tickWidth": 1, "labelPadding": 20, "labelFontSize": 19, "labelFontWeight": "bold", "labelFlush": false, "labelOverlap": false, "zindex": 1}},
   "y2": {"field": "hi"},
   "color": {"field": "g", "type": "quantitative", "legend": null,
    "scale": {"type": "quantize", "domain": [0, 150], "range": ["#6300ff","#3300ff","#0014ff","#0044ff","#008bff","#00bbff","#00fffc","#00ffcc","#00ff85","#00ff55","#00ff0e","#22ff00","#69ff00","#99ff00","#e0ff00","#ffee00","#ffa700","#ff7700","#ff3000","#ff0000"]}},
   "stroke": {"field": "g", "type": "quantitative", "legend": null,
    "scale": {"type": "quantize", "domain": [0, 150], "range": ["#6300ff","#3300ff","#0014ff","#0044ff","#008bff","#00bbff","#00fffc","#00ffcc","#00ff85","#00ff55","#00ff0e","#22ff00","#69ff00","#99ff00","#e0ff00","#ffee00","#ffa700","#ff7700","#ff3000","#ff0000"]}}
  }
 }
 ]
}
]
}
